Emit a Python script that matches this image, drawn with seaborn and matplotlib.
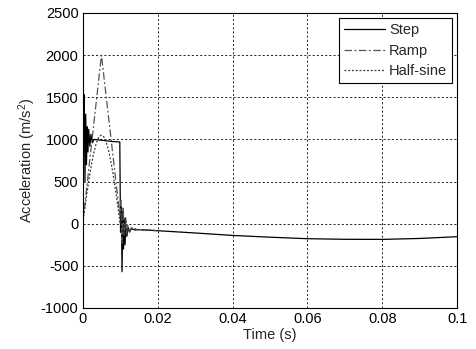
import matplotlib
matplotlib.use("Agg")
import matplotlib.pyplot as plt
import seaborn as sns
import pandas as pd

# Step pulse response
step_t = [0, 0.0002, 0.0004, 0.0006, 0.0008, 0.0010, 0.0012, 0.0014, 0.0016, 0.0019,
          0.0022, 0.0026, 0.0030, 0.0040, 0.0060, 0.0080, 0.0099, 0.0101, 0.0103,
          0.0105, 0.0107, 0.0109, 0.0111, 0.0113, 0.0115, 0.0118, 0.0121, 0.0125,
          0.0130, 0.0140, 0.0150, 0.0200, 0.0300, 0.0400, 0.0500, 0.0600, 0.0700,
          0.0800, 0.0900, 0.1000]
step_a = [0, 1250, 1530, 500, 1300, 700, 1150, 850, 1120, 920,
          1060, 960, 1000, 995, 985, 975, 970, -100, 200,
          -570, 150, -300, 60, -250, -20, -150, -40, -100,
          -60, -75, -70, -83, -110, -139, -160, -178, -185,
          -186, -175, -154]

# Ramp pulse response
ramp_t = [0, 0.0050, 0.0099, 0.0102, 0.0105, 0.0108, 0.0111, 0.0114, 0.0117,
          0.0120, 0.0125, 0.0130, 0.0140, 0.0150, 0.0200]
ramp_a = [0, 2000, 100, 280, -230, 200, -150, 80, -120,
          -20, -90, -50, -70, -70, -83]

# Half-sine pulse response
half_t = [0, 0.0005, 0.0010, 0.0015, 0.0020, 0.0025, 0.0030, 0.0035, 0.0040,
          0.0045, 0.0050, 0.0055, 0.0060, 0.0065, 0.0070, 0.0075, 0.0080,
          0.0085, 0.0090, 0.0095, 0.0100, 0.0105, 0.0110, 0.0115, 0.0120,
          0.0130, 0.0150, 0.0200]
half_a = [0, 165, 325, 475, 615, 740, 850, 935, 1000,
          1040, 1050, 1040, 1000, 935, 850, 740, 615,
          475, 325, 165, 0, 120, -150, 60, -90,
          -50, -70, -83]

series_names = ["Step", "Ramp", "Half-sine"]
xticks = [0, 0.02, 0.04, 0.06, 0.08, 0.1]
xtick_labels = ["0", "0.02", "0.04", "0.06", "0.08", "0.1"]
yticks = [-1000, -500, 0, 500, 1000, 1500, 2000, 2500]

sns.set_style("white")
plt.rcParams['font.family'] = ['Liberation Sans', 'DejaVu Sans']
plt.rcParams['axes.unicode_minus'] = False
plt.rcParams['mathtext.fontset'] = 'custom'
plt.rcParams['mathtext.rm'] = 'Liberation Sans'
plt.rcParams['mathtext.it'] = 'Liberation Sans'

fig = plt.figure(figsize=(4.77, 3.49), dpi=100)
ax = fig.add_axes([0.1734, 0.1175, 0.7853, 0.8453])

df_s = pd.DataFrame({"t": step_t, "a": step_a})
df_r = pd.DataFrame({"t": ramp_t, "a": ramp_a})
df_h = pd.DataFrame({"t": half_t, "a": half_a})

sns.lineplot(data=df_s, x="t", y="a", ax=ax, color="black", lw=0.9,
             label=series_names[0], sort=False, estimator=None)
sns.lineplot(data=df_r, x="t", y="a", ax=ax, color="#555555", lw=0.9,
             linestyle=(0, (6, 2, 1.5, 2)), label=series_names[1], sort=False, estimator=None)
sns.lineplot(data=df_h, x="t", y="a", ax=ax, color="#333333", lw=0.9,
             linestyle=(0, (1.5, 1.5)), label=series_names[2], sort=False, estimator=None)

ax.set_xlim(0, 0.1)
ax.set_ylim(-1000, 2500)
ax.set_xticks(xticks)
ax.set_xticklabels(xtick_labels)
ax.set_yticks(yticks)
ax.tick_params(direction="in", length=3, labelsize=10.5, colors="black", pad=3)
ax.grid(True, color="black", linestyle=(0, (2.5, 2.5)), lw=0.6)
for sp in ax.spines.values():
    sp.set_color("black")
    sp.set_linewidth(0.8)

ax.set_xlabel("Time (s)", fontsize=10.5, labelpad=1)
ax.set_ylabel("Acceleration (m/s$^2$)", fontsize=10.5, labelpad=2)

leg = ax.legend(loc="upper right", fontsize=10.5, frameon=True, fancybox=False,
                edgecolor="black", framealpha=1, handlelength=2.8,
                borderpad=0.35, labelspacing=0.45, handletextpad=0.3,
                borderaxespad=0.35)
leg.get_frame().set_linewidth(0.8)

fig.savefig("out.png", dpi=100, facecolor="white")
